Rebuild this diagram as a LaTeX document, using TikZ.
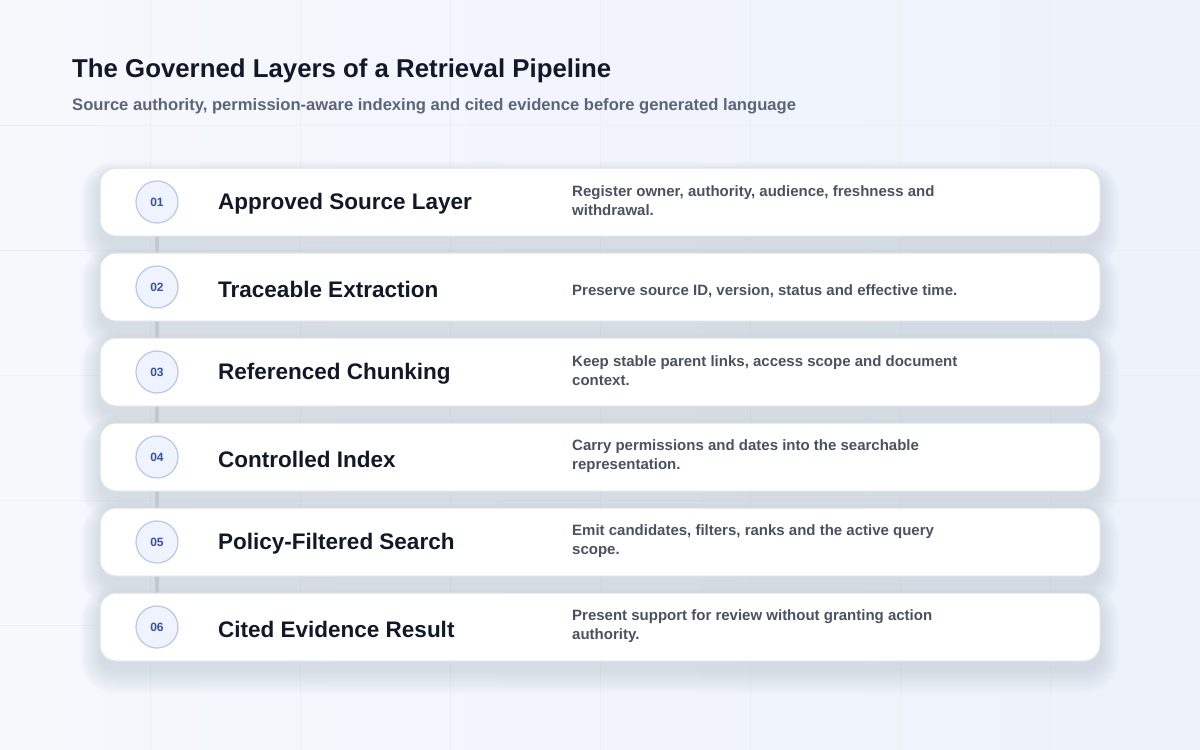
\documentclass[tikz,border=0pt]{standalone}
\usepackage{fontspec}
\setmainfont{Liberation Sans}
\usetikzlibrary{positioning}
\definecolor{bgA}{HTML}{F6F8FC}
\definecolor{bgB}{HTML}{EDF2FB}
\definecolor{gridc}{HTML}{EBEFF6}
\definecolor{titlec}{HTML}{111827}
\definecolor{subc}{HTML}{5B6577}
\definecolor{descc}{HTML}{4A5261}
\definecolor{numc}{HTML}{3552A0}
\definecolor{numfill}{HTML}{EEF3FD}
\definecolor{numdraw}{HTML}{B9C8E4}
\definecolor{cardline}{HTML}{DCE2EC}
\definecolor{shadowc}{HTML}{7F8CAA}
\definecolor{connc}{HTML}{C4C8D1}
\pgfdeclarelayer{bglayer}
\pgfdeclarelayer{shadowlayer}
\pgfdeclarelayer{connlayer}
\pgfsetlayers{bglayer,shadowlayer,connlayer,main}
\tikzset{
  card/.style={draw=cardline, line width=1pt, fill=white, rounded corners=16pt,
    minimum width=1000pt, minimum height=68pt, inner sep=0pt},
  numbadge/.style={circle, draw=numdraw, line width=1.2pt, fill=numfill,
    minimum size=42pt, inner sep=0pt, text=numc, font=\fontsize{12}{14}\selectfont\bfseries},
  cardtitle/.style={anchor=west, text=titlec, inner sep=0pt,
    font=\fontsize{22.5}{26}\selectfont\bfseries},
  carddesc/.style={anchor=west, text=descc, inner sep=0pt, align=left,
    font=\fontsize{15}{19}\selectfont\bfseries},
  conn/.style={draw=connc, line width=4pt},
}
\begin{document}
\begin{tikzpicture}[x=1pt,y=-1pt]
\useasboundingbox (0,0) rectangle (1200,750);
\begin{pgfonlayer}{bglayer}
\shade[left color=bgA, right color=bgB] (0,0) rectangle (1200,750);
\foreach \gx in {150,300,...,1050} \draw[gridc, line width=0.8pt] (\gx,0) -- (\gx,750);
\foreach \gy in {125,250,...,625} \draw[gridc, line width=0.8pt] (0,\gy) -- (1200,\gy);
\end{pgfonlayer}

\node[anchor=base west, text=titlec, inner sep=0pt, font=\fontsize{25.8}{30}\selectfont\bfseries] (title) at (72,77) {The Governed Layers of a Retrieval Pipeline};
\node[anchor=base west, text=subc, inner sep=0pt, font=\fontsize{16.6}{19}\selectfont\bfseries] (subtitle) at (72,110) {Source authority, permission-aware indexing and cited evidence before generated language};

% cards
\foreach \i/\cy in {1/202,2/287,3/372,4/457,5/542,6/627}{
  \begin{pgfonlayer}{shadowlayer}
    \foreach \k in {1,...,12}{
      \fill[shadowc, opacity=0.018, rounded corners=16pt+\k*1.5pt]
        (100-\k*1.6, \cy-34+8-\k*1.2) rectangle (1100+\k*1.6, \cy+34+8+\k*2.0);
    }
  \end{pgfonlayer}
  \node[card] (card\i) at (600,\cy) {};
  \node[numbadge] (n\i) at (157,\cy) {0\i};
}

\node[cardtitle] (t1) at (218,204) {Approved Source Layer};
\node[cardtitle] (t2) at (218,289) {Traceable Extraction};
\node[cardtitle] (t3) at (218,374) {Referenced Chunking};
\node[cardtitle] (t4) at (218,459) {Controlled Index};
\node[cardtitle] (t5) at (218,544) {Policy-Filtered Search};
\node[cardtitle] (t6) at (218,629) {Cited Evidence Result};

\node[carddesc] (d1) at (572,201) {Register owner, authority, audience, freshness and\\withdrawal.};
\node[carddesc] (d2) at (572,291) {Preserve source ID, version, status and effective time.};
\node[carddesc] (d3) at (572,371) {Keep stable parent links, access scope and document\\context.};
\node[carddesc] (d4) at (572,456) {Carry permissions and dates into the searchable\\representation.};
\node[carddesc] (d5) at (572,541) {Emit candidates, filters, ranks and the active query\\scope.};
\node[carddesc] (d6) at (572,626) {Present support for review without granting action\\authority.};

\begin{pgfonlayer}{connlayer}
  \foreach \a/\b in {1/2,2/3,3/4,4/5,5/6} \draw[conn] (n\a) -- (n\b);
\end{pgfonlayer}
\end{tikzpicture}
\end{document}
